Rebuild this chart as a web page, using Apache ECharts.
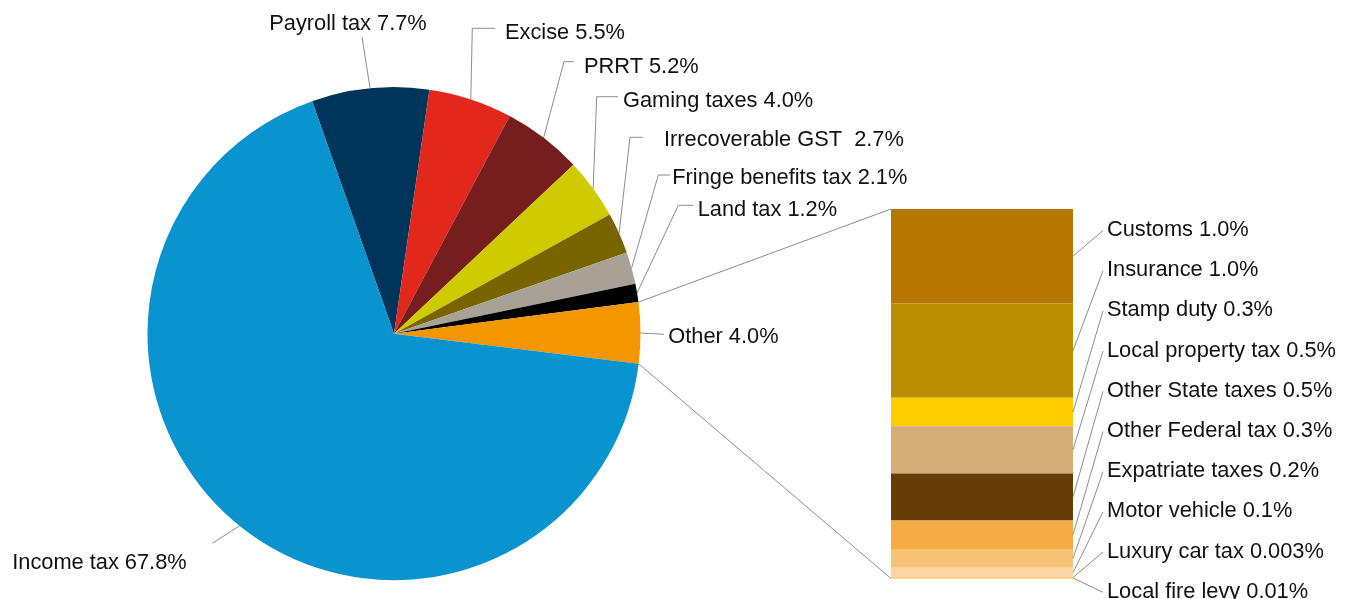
<!DOCTYPE html>
<html>
<head>
<meta charset="utf-8">
<script src="https://cdn.jsdelivr.net/npm/echarts@6/dist/echarts.min.js"></script>
<style>
  html, body { margin: 0; padding: 0; background: #ffffff; }
  #chart { width: 1346px; height: 599px; }
</style>
</head>
<body>
<div id="chart"></div>
<script>
// Share of total tax revenue, per cent (clockwise from the top-left)
const pieNames = ['Payroll tax', 'Excise', 'PRRT', 'Gaming taxes', 'Irrecoverable GST ',
  'Fringe benefits tax', 'Land tax', 'Other', 'Income tax'];
const pieValues = [7.7, 5.5, 5.2, 4.0, 2.7, 2.1, 1.2, 4.0, 67.8];

// Breakdown of "Other", per cent, top to bottom of the stacked column
const otherNames = ['Customs', 'Insurance', 'Stamp duty', 'Local property tax', 'Other State taxes',
  'Other Federal tax', 'Expatriate taxes', 'Motor vehicle', 'Luxury car tax', 'Local fire levy'];
const otherValues = [1.0, 1.0, 0.3, 0.5, 0.5, 0.3, 0.2, 0.1, 0.003, 0.01];

// Colours
const pieColors = ['#00355b', '#e2271b', '#761d1e', '#cfcb00', '#786500', '#a8a196', '#000000', '#f29700', '#0994d0'];
const otherColors = ['#b67800', '#b98e00', '#ffcc00', '#d4ae76', '#673c06', '#f5ac44', '#f8c174', '#fbd6a4', '#f9c663', '#f5b54a'];

// Geometry and type
const PIE_CX = 394, PIE_CY = 333.7, PIE_R = 246.5, START_ANGLE = 109.4;
const OTHER_INDEX = pieNames.indexOf('Other');
const FONT_FAMILY = '"Liberation Sans", Arial, Helvetica, sans-serif';
const FONT_SIZE = 21.8;
const TEXT_COLOR = '#111111';
const LEADER_COLOR = '#8c8c8c';
const COLUMN_LABEL_GAP = 34, COLUMN_LABEL_FIRST = 21, COLUMN_LABEL_STEP = 40.2;

// Where each pie label sits, and the bends of its leader line
const pieLabelPlacement = [
  { at: [348, 23.5], align: 'center', bends: [[362, 37]] },
  { at: [505, 33], align: 'left', bends: [[472.3, 28.3], [495, 28.3]] },
  { at: [584, 66.5], align: 'left', bends: [[564, 61.7], [574, 61.7]] },
  { at: [623, 100.5], align: 'left', bends: [[596.7, 96.7], [618, 96.7]] },
  { at: [664, 139.5], align: 'left', bends: [[630, 137.3], [642.7, 137.3]] },
  { at: [672.3, 178], align: 'left', bends: [[658.3, 175], [670, 175]] },
  { at: [697.7, 210], align: 'left', bends: [[678.3, 205.3], [693.3, 205.3]] },
  { at: [668.3, 336.5], align: 'left', bends: [[664, 334.3]] },
  { at: [12.2, 563], align: 'left', bends: [[212.3, 543.3]] }
];

const pieTotal = pieValues.reduce(function (a, b) { return a + b; }, 0);
const otherTotal = otherValues.reduce(function (a, b) { return a + b; }, 0);

// Point on the pie rim after `cum` per cent of the circle, matching the pie layout
function rimPoint(cum) {
  const a = (-START_ANGLE + cum / pieTotal * 360) * Math.PI / 180;
  return [PIE_CX + PIE_R * Math.cos(a), PIE_CY + PIE_R * Math.sin(a)];
}
const otherStartCum = pieValues.slice(0, OTHER_INDEX).reduce(function (a, b) { return a + b; }, 0);
const otherTopEdge = rimPoint(otherStartCum);
const otherBottomEdge = rimPoint(otherStartCum + pieValues[OTHER_INDEX]);

function fmtOther(v) {
  return v >= 0.1 ? v.toFixed(1) : String(v);
}

// Column segments: [category, lower, upper, index]
const columnData = [];
let runningTop = otherTotal;
otherValues.forEach(function (v, i) {
  columnData.push([0, runningTop - v, runningTop, i]);
  runningTop -= v;
});

const chart = echarts.init(document.getElementById('chart'), null, { renderer: 'canvas' });

chart.setOption({
  animation: false,
  backgroundColor: '#ffffff',
  grid: { left: 891, top: 209, width: 182, height: 369.5 },
  xAxis: { type: 'category', data: ['Other'], show: false, boundaryGap: true },
  yAxis: { type: 'value', min: 0, max: otherTotal, show: false },
  series: [
    {
      type: 'pie',
      center: [PIE_CX, PIE_CY],
      radius: PIE_R,
      startAngle: START_ANGLE,
      clockwise: true,
      avoidLabelOverlap: false,
      data: pieNames.map(function (n, i) {
        return { name: n, value: pieValues[i], itemStyle: { color: pieColors[i] } };
      }),
      itemStyle: { borderWidth: 0 },
      label: {
        show: true,
        position: 'outside',
        color: TEXT_COLOR,
        fontFamily: FONT_FAMILY,
        fontSize: FONT_SIZE,
        formatter: function (p) { return p.name + ' ' + p.value.toFixed(1) + '%'; }
      },
      labelLine: {
        show: true,
        length: 10,
        length2: 10,
        smooth: false,
        lineStyle: { color: LEADER_COLOR, width: 1 }
      },
      labelLayout: function (params) {
        const place = pieLabelPlacement[params.dataIndex];
        const start = params.labelLinePoints ? params.labelLinePoints[0] : place.bends[0];
        return {
          x: place.at[0],
          y: place.at[1],
          align: place.align,
          verticalAlign: 'middle',
          labelLinePoints: [start].concat(place.bends)
        };
      },
      emphasis: { disabled: true }
    },
    {
      type: 'custom',
      coordinateSystem: 'cartesian2d',
      encode: { x: 0, y: [1, 2] },
      data: columnData,
      clip: false,
      renderItem: function (params, api) {
        const i = api.value(3);
        const lo = api.coord([0, api.value(1)]);
        const hi = api.coord([0, api.value(2)]);
        const cs = params.coordSys;
        const x0 = cs.x, x1 = cs.x + cs.width;
        const midY = (lo[1] + hi[1]) / 2;
        const lx = x1 + COLUMN_LABEL_GAP;
        const ly = cs.y + COLUMN_LABEL_FIRST + i * COLUMN_LABEL_STEP;
        const children = [
          {
            type: 'rect',
            shape: { x: x0, y: hi[1], width: cs.width, height: Math.max(lo[1] - hi[1], 0.6) },
            style: { fill: otherColors[i] }
          },
          {
            type: 'polyline',
            shape: { points: [[x1, midY], [lx - 4, ly + 0.5]] },
            style: { stroke: LEADER_COLOR, lineWidth: 1, fill: null }
          },
          {
            type: 'text',
            x: lx,
            y: ly,
            style: {
              text: otherNames[i] + ' ' + fmtOther(otherValues[i]) + '%',
              fill: TEXT_COLOR,
              fontFamily: FONT_FAMILY,
              fontSize: FONT_SIZE,
              align: 'left',
              verticalAlign: 'middle'
            }
          }
        ];
        // Connectors from the "Other" slice to the column
        if (i === 0) {
          children.push({
            type: 'line',
            shape: { x1: otherTopEdge[0], y1: otherTopEdge[1], x2: x0, y2: hi[1] },
            style: { stroke: LEADER_COLOR, lineWidth: 1 }
          });
        }
        if (i === otherValues.length - 1) {
          children.push({
            type: 'line',
            shape: { x1: otherBottomEdge[0], y1: otherBottomEdge[1], x2: x0, y2: api.coord([0, 0])[1] },
            style: { stroke: LEADER_COLOR, lineWidth: 1 }
          });
        }
        return { type: 'group', children: children };
      }
    }
  ]
});
</script>
</body>
</html>
